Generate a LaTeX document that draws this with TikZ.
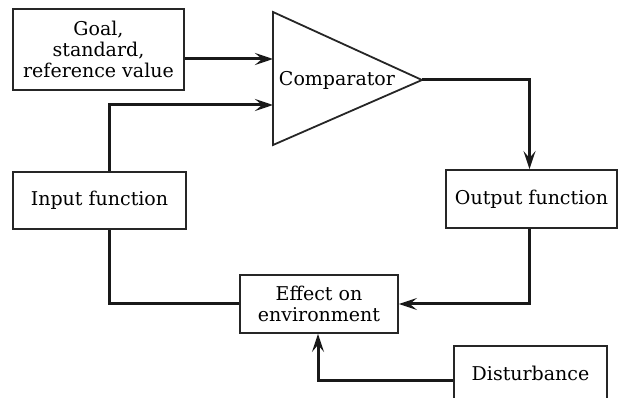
\documentclass[tikz,border=0pt]{standalone}
\usepackage{fontspec}
\setmainfont{DejaVu Serif}
\usetikzlibrary{arrows.meta}
\begin{document}
\begin{tikzpicture}[x=1pt,y=-1pt,
  txt/.style={font=\fontsize{19}{21}\selectfont},
  box/.style={txt, draw=black!85, line width=1.8pt, inner sep=0pt, align=center},
  wire/.style={draw=black!90, line width=3pt},
  arr/.style={wire, -{Stealth[length=18pt,width=12pt,inset=7pt]}},
]
\useasboundingbox (0,0) rectangle (619,398);
\node[box, minimum width=171pt, minimum height=81pt] (goal) at (98.5,49.5) {Goal,\\standard,\\reference value};
\node[box, minimum width=173pt, minimum height=57pt] (input) at (99.5,200.5) {Input function};
\node[box, minimum width=171pt, minimum height=58pt] (output) at (531.5,199) {Output function};
\node[box, minimum width=158pt, minimum height=58pt] (effect) at (319,304) {Effect on\\environment};
\node[box, minimum width=153pt, minimum height=54pt] (dist) at (530.5,373) {Disturbance};
\coordinate (cmpA) at (273,12);
\coordinate (cmpB) at (273,145);
\coordinate (cmpTip) at (422,80);
\coordinate (cmpIn1) at (273,59);
\coordinate (cmpIn2) at (273,105);
\draw[draw=black!85, line width=1.8pt, line join=miter] (cmpA) -- (cmpTip) -- (cmpB) -- cycle;
\node[txt, inner sep=0pt] (cmp) at (337,80) {Comparator};
\draw[arr] (goal.east |- cmpIn1) -- (cmpIn1);
\draw[arr] ([xshift=10pt]input.north) |- (cmpIn2);
\draw[arr] (cmpTip) -| ([xshift=-2pt]output.north);
\draw[arr] ([xshift=-2pt]output.south) |- (effect.east);
\draw[wire] ([xshift=10pt]input.south) |- (effect.west);
\draw[arr] ([yshift=-7pt]dist.west) -| ([xshift=-1pt]effect.south);
\end{tikzpicture}
\end{document}
